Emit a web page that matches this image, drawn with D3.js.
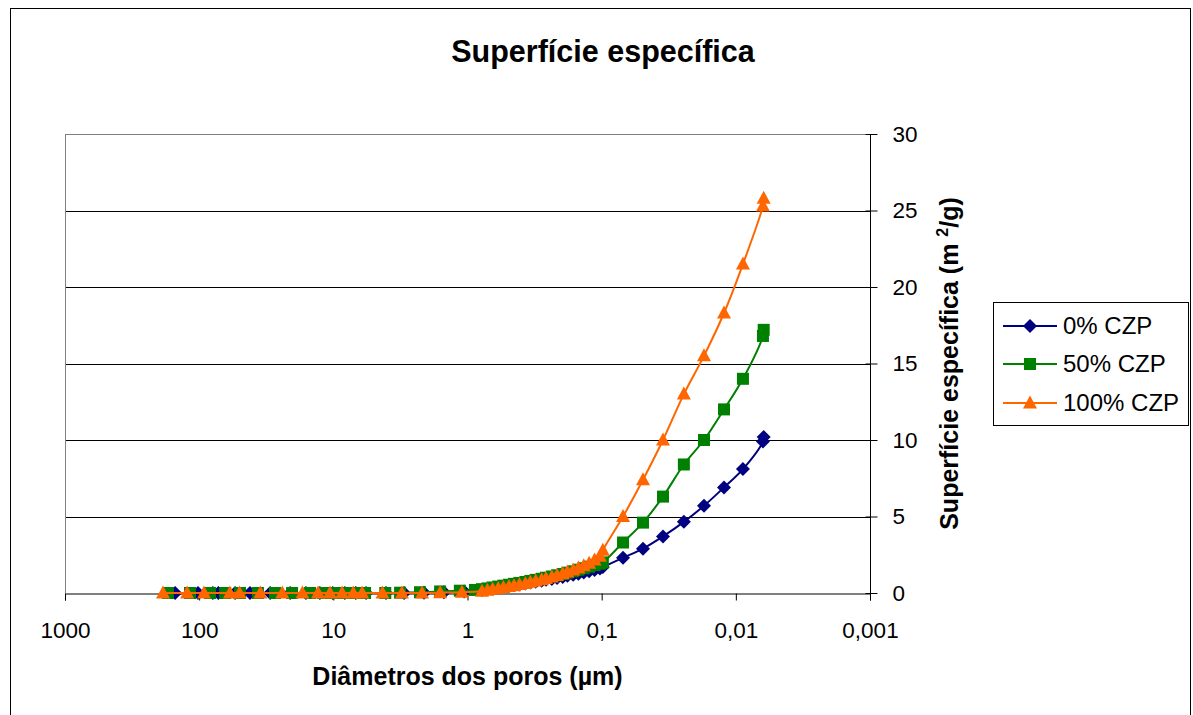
<!DOCTYPE html>
<html><head><meta charset="utf-8">
<script src="https://cdn.jsdelivr.net/npm/d3@7"></script>
<style>body{margin:0;background:#fff} svg{display:block} text{font-family:"Liberation Sans",Arial,sans-serif}</style>
</head><body><svg id="c" width="1193" height="715"></svg>
<script>
// ---- data ----
const seriesNames = ["0% CZP", "50% CZP", "100% CZP"];
const xTickValues = [1000, 100, 10, 1, 0.1, 0.01, 0.001];
const xTickLabels = ["1000", "100", "10", "1", "0,1", "0,01", "0,001"];
const yTickValues = [0, 5, 10, 15, 20, 25, 30];

// large-pore (flat) region diameters, µm
const diamFlat0 = [151, 102, 79, 72, 54, 41.8, 29.6, 21.0, 16.0, 12.6, 10.1, 8.2, 6.8, 5.7, 4.05, 2.97, 2.11, 1.50, 1.06];
const valFlat0  = [0, 0, 0, 0, 0, 0, 0, 0, 0, 0, 0, 0, 0, 0, 0, 0, 0.02, 0.05, 0.1];
const diamFlat50 = [171, 117, 83, 64, 49.6, 36.5, 27.2, 20.3, 14.9, 11.9, 9.7, 8.2, 6.9, 5.8, 4.1, 3.18, 2.26, 1.60, 1.14, 0.88];
const valFlat50  = [0, 0, 0, 0, 0, 0, 0, 0, 0, 0, 0, 0, 0, 0, 0, 0.02, 0.05, 0.1, 0.15, 0.2];
const diamFlat100 = [186, 123, 92, 59, 50, 35, 24, 17, 13, 10.6, 8.6, 7.1, 6.1, 4.3, 3.08, 2.18, 1.60, 1.10];
const valFlat100  = [0, 0, 0, 0, 0, 0, 0, 0, 0, 0, 0, 0, 0, 0, 0, 0, 0.02, 0.05];

// mesopore (dense) region diameters, µm
const diamDense = [0.78, 0.71, 0.65, 0.59, 0.54, 0.49, 0.45, 0.41, 0.37, 0.34, 0.31, 0.28, 0.26, 0.235, 0.215, 0.195, 0.18, 0.163, 0.149, 0.136, 0.124, 0.113, 0.103, 0.098];
const valDense0   = [0.2, 0.25, 0.3, 0.35, 0.4, 0.45, 0.5, 0.56, 0.62, 0.68, 0.74, 0.8, 0.86, 0.92, 0.98, 1.05, 1.12, 1.19, 1.26, 1.34, 1.42, 1.5, 1.6, 1.7];
const valDense50  = [0.25, 0.3, 0.36, 0.42, 0.48, 0.54, 0.6, 0.66, 0.72, 0.79, 0.86, 0.93, 1.0, 1.08, 1.16, 1.24, 1.33, 1.42, 1.52, 1.62, 1.72, 1.82, 1.92, 2.0];
const valDense100 = [0.12, 0.18, 0.24, 0.3, 0.36, 0.42, 0.48, 0.55, 0.62, 0.7, 0.78, 0.86, 0.95, 1.05, 1.15, 1.26, 1.38, 1.5, 1.63, 1.78, 1.95, 2.15, 2.4, 2.8];

// small-pore (tail) region diameters, µm
const diamTail = [0.0693, 0.0492, 0.0349, 0.0244, 0.01727, 0.01225, 0.00885, 0.00628, 0.0062];
const valTail0   = [2.3, 2.9, 3.7, 4.65, 5.7, 6.9, 8.1, 9.9, 10.2];
const valTail50  = [3.3, 4.6, 6.3, 8.4, 10.0, 12.0, 14.0, 16.8, 17.2];
const valTail100 = [5.0, 7.4, 10.0, 13.0, 15.5, 18.3, 21.5, 25.3, 25.8];

// ---- build ----
function zipPts(ds, vs) { return ds.map((d, i) => ({d: d, v: vs[i]})); }
const series = [
  {name: seriesNames[0], color: "#000080", shape: "diamond",
   pts: zipPts(diamFlat0, valFlat0).concat(zipPts(diamDense, valDense0), zipPts(diamTail, valTail0))},
  {name: seriesNames[1], color: "#008000", shape: "square",
   pts: zipPts(diamFlat50, valFlat50).concat(zipPts(diamDense, valDense50), zipPts(diamTail, valTail50))},
  {name: seriesNames[2], color: "#FF6600", shape: "triangle",
   pts: zipPts(diamFlat100, valFlat100).concat(zipPts(diamDense, valDense100), zipPts(diamTail, valTail100))}
];

const svg = d3.select("#c");
const L = 65, R = 870, T = 134, B = 593;

// outer border
svg.append("rect").attr("x", 10.5).attr("y", 8.5).attr("width", 1180).attr("height", 720)
  .attr("fill", "none").attr("stroke", "#000").attr("stroke-width", 1);

const x = d3.scaleLog().domain([1000, 0.001]).range([L, R]);
const y = d3.scaleLinear().domain([0, 30]).range([B, T]);

// gridlines
svg.append("g").selectAll("line").data(yTickValues.filter(v => v > 0 && v < 30)).join("line")
  .attr("x1", L).attr("x2", R).attr("y1", d => Math.round(y(d)) + 0.5).attr("y2", d => Math.round(y(d)) + 0.5)
  .attr("stroke", "#000").attr("stroke-width", 1);

// plot frame (gray top/left)
svg.append("line").attr("x1", L + 0.5).attr("x2", L + 0.5).attr("y1", T).attr("y2", B).attr("stroke", "#808080");
svg.append("line").attr("x1", L).attr("x2", R).attr("y1", T + 0.5).attr("y2", T + 0.5).attr("stroke", "#808080");

// x axis
const xAxis = d3.axisBottom(x).tickValues(xTickValues).tickSize(7).tickPadding(22)
  .tickFormat((d, i) => xTickLabels[i]);
const gx = svg.append("g").attr("transform", `translate(0,${B + 0.5})`).call(xAxis);
gx.select(".domain").attr("stroke", "#000");
gx.selectAll(".tick line").attr("stroke", "#000");
gx.selectAll("text").attr("font-size", 22.5).attr("fill", "#000").attr("font-family", "Liberation Sans, Arial, sans-serif");

// y axis (right)
const yAxis = d3.axisRight(y).tickValues(yTickValues).tickSize(7).tickPadding(15);
const gy = svg.append("g").attr("transform", `translate(${R + 0.5},0)`).call(yAxis);
gy.select(".domain").attr("stroke", "#000").attr("d", `M0,${T}V${B}`);
gy.selectAll(".tick line").attr("x1", -5).attr("stroke", "#000");
gy.selectAll("text").attr("font-size", 22.5).attr("fill", "#000").attr("font-family", "Liberation Sans, Arial, sans-serif");

// series
const line = d3.line().x(p => x(p.d)).y(p => y(p.v)).curve(d3.curveCatmullRom.alpha(0.5));
function marker(g, shape, color, cx, cy) {
  if (shape === "diamond") {
    g.append("path").attr("d", `M${cx},${cy - 7}L${cx + 7},${cy}L${cx},${cy + 7}L${cx - 7},${cy}Z`).attr("fill", color);
  } else if (shape === "square") {
    g.append("rect").attr("x", cx - 6).attr("y", cy - 6).attr("width", 12).attr("height", 12).attr("fill", color);
  } else {
    g.append("path").attr("d", `M${cx},${cy - 7.5}L${cx + 7},${cy + 5.5}L${cx - 7},${cy + 5.5}Z`).attr("fill", color);
  }
}
series.forEach(s => {
  const g = svg.append("g");
  g.append("path").datum(s.pts).attr("d", line).attr("fill", "none").attr("stroke", s.color).attr("stroke-width", 2);
  s.pts.forEach(p => marker(g, s.shape, s.color, x(p.d), y(p.v)));
});

// titles
svg.append("text").attr("x", 603).attr("y", 62).attr("text-anchor", "middle")
  .attr("font-size", 30.5).attr("font-weight", "bold").text("Superfície específica");
svg.append("text").attr("x", (L + R) / 2).attr("y", 685).attr("text-anchor", "middle")
  .attr("font-size", 25).attr("font-weight", "bold").text("Diâmetros dos poros (µm)");
const yt = svg.append("text").attr("transform", `translate(958,${(T + B) / 2}) rotate(-90)`)
  .attr("text-anchor", "middle").attr("font-size", 25).attr("font-weight", "bold");
yt.append("tspan").text("Superfície específica (m ");
yt.append("tspan").attr("font-size", 16).attr("dy", -10).text("2");
yt.append("tspan").attr("dy", 10).text("/g)");

// legend
const lg = svg.append("g");
lg.append("rect").attr("x", 993.5).attr("y", 302.5).attr("width", 195).attr("height", 123)
  .attr("fill", "#fff").attr("stroke", "#000");
const legY = [326, 364, 403];
series.forEach((s, i) => {
  lg.append("line").attr("x1", 1003).attr("x2", 1057).attr("y1", legY[i]).attr("y2", legY[i])
    .attr("stroke", s.color).attr("stroke-width", 2);
  marker(lg, s.shape, s.color, 1030, legY[i]);
  lg.append("text").attr("x", 1063).attr("y", legY[i] + 8).attr("font-size", 24).text(s.name);
});
</script>
</body></html>
